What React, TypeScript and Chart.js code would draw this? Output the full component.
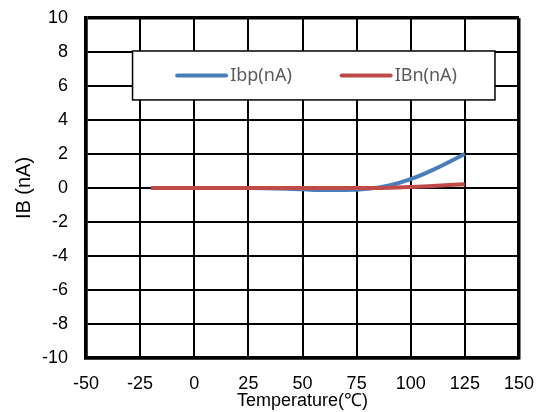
import React, { useEffect, useRef } from "react";
import { Chart, registerables } from "chart.js";

Chart.register(...registerables);

const temperatures = [-20, 0, 25, 50, 60, 70, 80, 90, 100, 110, 125];
const ibpValues = [0, 0, 0, -0.08, -0.12, -0.12, -0.05, 0.15, 0.52, 1.05, 2.0];
const ibnValues = [0, 0, 0, 0, 0, 0, 0, 0.02, 0.06, 0.12, 0.22];
const xTicks = [-50, -25, 0, 25, 50, 75, 100, 125, 150];
const yTicks = [-10, -8, -6, -4, -2, 0, 2, 4, 6, 8, 10];
const seriesLabels = ["Ibp(nA)", "IBn(nA)"];
const seriesColors = ["#4A7EBB", "#BE4B48"];

const insideLegend = {
  id: "insideLegend",
  afterDraw(chart: any) {
    const { ctx, chartArea } = chart;
    const w = chartArea.right - chartArea.left;
    const h = chartArea.bottom - chartArea.top;
    const bx = chartArea.left + w * 0.1075;
    const bx2 = chartArea.left + w * 0.9445;
    const by = chartArea.top + h * 0.097;
    const by2 = chartArea.top + h * 0.241;
    ctx.save();
    ctx.fillStyle = "#ffffff";
    ctx.fillRect(bx, by, bx2 - bx, by2 - by);
    ctx.strokeStyle = "#000000";
    ctx.lineWidth = 1.5;
    ctx.strokeRect(bx, by, bx2 - bx, by2 - by);
    const cy = (by + by2) / 2;
    const bw = bx2 - bx;
    const starts = [0.123, 0.577];
    ctx.font = "18px 'Noto Sans'";
    ctx.textBaseline = "middle";
    chart.data.datasets.forEach((ds: any, i: number) => {
      const lx = bx + bw * starts[i];
      ctx.strokeStyle = ds.borderColor;
      ctx.lineWidth = 4;
      ctx.lineCap = "round";
      ctx.beginPath();
      ctx.moveTo(lx, cy);
      ctx.lineTo(lx + 49, cy);
      ctx.stroke();
      ctx.fillStyle = "#595959";
      ctx.fillText(ds.label, lx + 53, cy);
    });
    ctx.restore();
  },
};

export default function App() {
  const ref = useRef<HTMLCanvasElement | null>(null);
  useEffect(() => {
    document.body.style.margin = "0";
    if (!ref.current) return;
    const edgeWidth = (n: number) => (c: any) =>
      c.index === 0 || c.index === n - 1 ? 3.5 : 2;
    const tickFont = { family: "'Liberation Sans', Arial", size: 18 };
    const chart = new Chart(ref.current, {
      type: "line",
      data: {
        datasets: [
          {
            label: seriesLabels[0],
            data: temperatures.map((t, i) => ({ x: t, y: ibpValues[i] })),
            borderColor: seriesColors[0],
            backgroundColor: seriesColors[0],
            borderWidth: 4,
            pointRadius: 0,
            cubicInterpolationMode: "monotone",
            order: 2,
          },
          {
            label: seriesLabels[1],
            data: temperatures.map((t, i) => ({ x: t, y: ibnValues[i] })),
            borderColor: seriesColors[1],
            backgroundColor: seriesColors[1],
            borderWidth: 4,
            pointRadius: 0,
            cubicInterpolationMode: "monotone",
            order: 1,
          },
        ],
      },
      options: {
        animation: false,
        responsive: false,
        devicePixelRatio: 1,
        layout: { padding: { top: 18, right: 23, left: 0, bottom: 0 } },
        plugins: {
          legend: { display: false },
          tooltip: { enabled: false },
        },
        scales: {
          x: {
            type: "linear",
            min: -50,
            max: 150,
            afterBuildTicks: (s: any) => {
              s.ticks = xTicks.map((v) => ({ value: v }));
            },
            afterFit: (s: any) => {
              s.height = 54;
              s.paddingLeft = 0;
              s.paddingRight = 0;
            },
            grid: {
              color: "#000",
              lineWidth: edgeWidth(xTicks.length),
              drawTicks: false,
            },
            border: { display: true, color: "#000", width: 3.5 },
            ticks: {
              color: "#000",
              padding: 15,
              font: tickFont,
            },
            title: {
              display: true,
              text: "Temperature(℃)",
              color: "#000",
              font: tickFont,
              padding: { top: 0, bottom: 0 },
            },
          },
          y: {
            type: "linear",
            min: -10,
            max: 10,
            afterBuildTicks: (s: any) => {
              s.ticks = yTicks.map((v) => ({ value: v }));
            },
            afterFit: (s: any) => {
              s.width = 86;
              s.paddingTop = 0;
              s.paddingBottom = 0;
            },
            grid: {
              color: "#000",
              lineWidth: edgeWidth(yTicks.length),
              drawTicks: false,
            },
            border: { display: true, color: "#000", width: 3.5 },
            ticks: {
              color: "#000",
              padding: 18,
              font: tickFont,
            },
            title: {
              display: true,
              text: "IB (nA)",
              color: "#000",
              font: { family: "'Liberation Sans', Arial", size: 20 },
              padding: { top: 12, bottom: 0 },
            },
          },
        },
      },
      plugins: [insideLegend],
    });
    return () => chart.destroy();
  }, []);
  return (
    <div style={{ width: 542, height: 412 }}>
      <canvas ref={ref} width={542} height={412} />
    </div>
  );
}
